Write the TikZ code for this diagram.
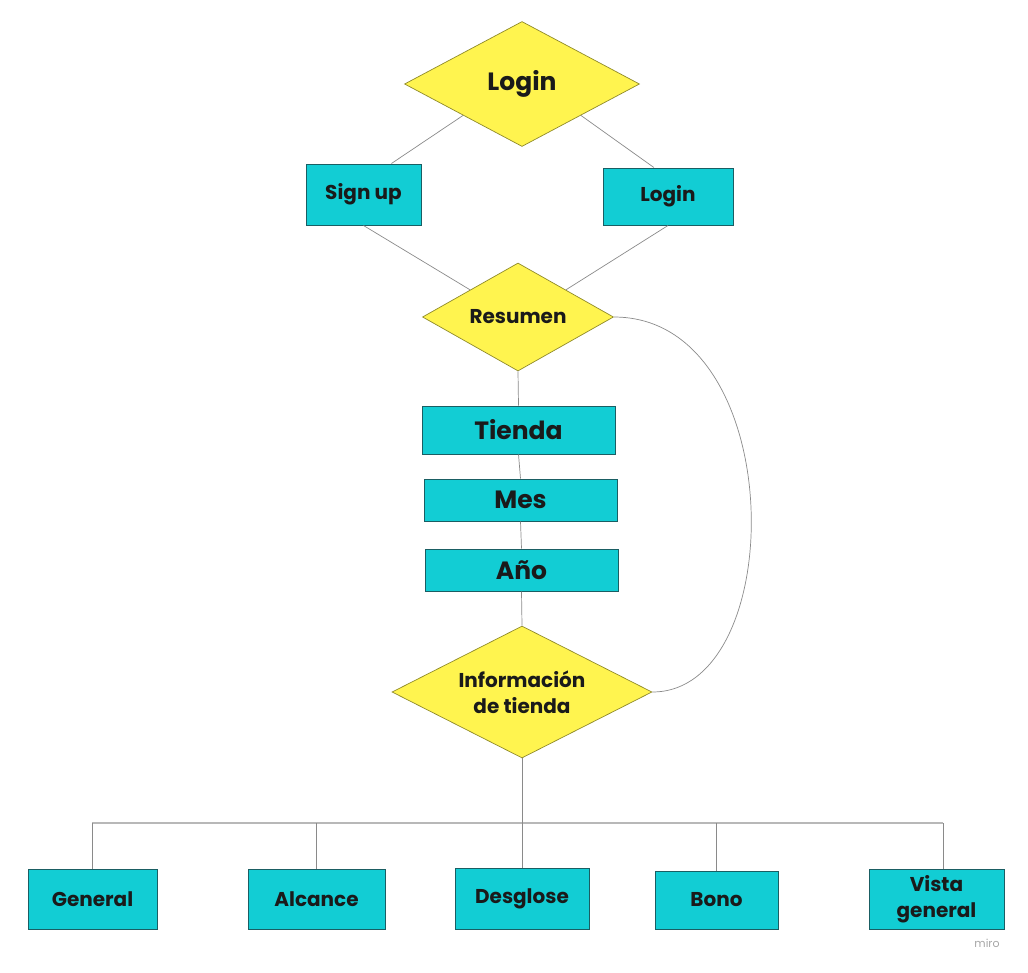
\documentclass[tikz,border=0pt]{standalone}
\usepackage{fontspec}
\setmainfont{Poppins}
\usetikzlibrary{shapes.geometric,calc}
\definecolor{ylw}{HTML}{FFF44F}
\definecolor{cyn}{HTML}{12CDD4}
\definecolor{tealb}{HTML}{1A5E63}
\definecolor{ybord}{HTML}{8F8A2A}
\definecolor{wirec}{HTML}{8A8A8A}
\definecolor{busc}{HTML}{B8B8B8}
\definecolor{ink}{HTML}{1A1A1A}
\begin{document}
\begin{tikzpicture}[x=1pt,y=-1pt,
  dec/.style={diamond, draw=ybord, line width=0.7pt, fill=ylw, inner sep=0pt, aspect=1.8, text=ink, align=center},
  box/.style={rectangle, draw=tealb, line width=1pt, fill=cyn, inner sep=0pt, text=ink, align=center},
  wire/.style={draw=wirec, line width=0.7pt},
  big/.style={font=\bfseries\fontsize{25}{30}\selectfont},
  mid/.style={font=\bfseries\fontsize{20}{26}\selectfont}]
\useasboundingbox (0,0) rectangle (1028,972);
\node[dec, big, minimum width=235pt, minimum height=125pt] (d1) at (522,84) {Login};
\node[box, mid, minimum width=115pt, minimum height=61pt] (su) at (363.5,194.5) {Sign up};
\node[box, mid, minimum width=130pt, minimum height=57pt] (li) at (668,196.5) {Login};
\node[dec, mid, minimum width=191pt, minimum height=108pt] (d2) at (518,317) {Resumen};
\node[box, big, minimum width=193pt, minimum height=48pt] (ti) at (518.5,430) {Tienda};
\node[box, big, minimum width=193pt, minimum height=42pt] (me) at (520.5,500) {Mes};
\node[box, big, minimum width=193pt, minimum height=42pt] (an) at (521.5,570) {Año};
\node[dec, mid, minimum width=260pt, minimum height=132pt] (d3) at (522,692) {Información\\de tienda};
\node[box, mid, minimum width=129pt, minimum height=60pt] (g) at (92.5,899) {General};
\node[box, mid, minimum width=137pt, minimum height=60pt] (al) at (316.5,899) {Alcance};
\node[box, mid, minimum width=134pt, minimum height=61pt] (de) at (522,898.5) {Desglose};
\node[box, mid, minimum width=123pt, minimum height=58pt] (bo) at (716.5,900) {Bono};
\node[box, mid, minimum width=135pt, minimum height=60pt] (vg) at (936.5,899) {Vista\\general};
\node[text=black!35, font=\fontsize{11}{13}\selectfont] (wm) at (987,943) {miro};

\draw[wire] (d1.south west) -- (su.48);
\draw[wire] (d1.south east) -- (li.116);
\draw[wire] (su.south) -- (d2.north west);
\draw[wire] (li.south) -- (d2.north east);
\draw[wire] (d2.south) -- (ti.north);
\draw[wire] (ti.south) -- (me.north);
\draw[wire] (me.south) -- (an.north);
\draw[wire] (an.south) -- (d3.north);
\draw[wire] (d2.east) .. controls +(176,0) and +(138,0) .. (d3.east);

\coordinate (bl) at (92,823);
\coordinate (br) at (943,823);
\draw[draw=busc, line width=1.5pt] (bl) -- (br);
\draw[wire] (d3.south) -- (de.north);
\draw[wire] (g.north) -- (g.north |- bl);
\draw[wire] (al.north) -- (al.north |- bl);
\draw[wire] (bo.north) -- (bo.north |- bl);
\draw[wire] (br) -- (br |- vg.north);
\end{tikzpicture}
\end{document}
